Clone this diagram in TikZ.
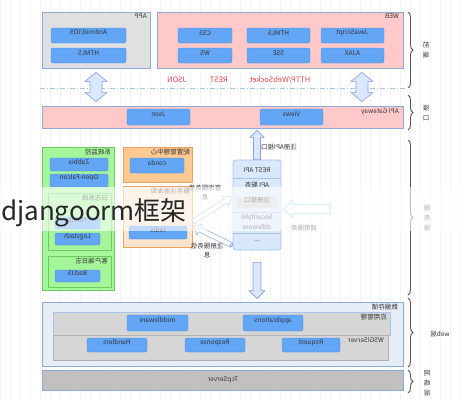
\documentclass[tikz,border=0pt]{standalone}
\usepackage{fontspec}
\setmainfont{Noto Sans CJK SC}
\usetikzlibrary{calc,fit,decorations.pathreplacing}
\definecolor{btnblue}{HTML}{62A6F5}
\definecolor{btnline}{HTML}{4A90E2}
\definecolor{boxline}{HTML}{8EAADB}
\definecolor{pinkf}{HTML}{FFC9C9}
\definecolor{grayf}{HTML}{E0E0E0}
\definecolor{greenf}{HTML}{A5F59A}
\definecolor{greenl}{HTML}{6CCB5F}
\definecolor{orangef}{HTML}{FFC992}
\definecolor{orangel}{HTML}{EFA35A}
\definecolor{peachf}{HTML}{FCE3CF}
\definecolor{restf}{HTML}{DAE8FC}
\definecolor{restl}{HTML}{A9C4EB}
\definecolor{redt}{HTML}{E04848}
\definecolor{webf}{HTML}{E6EDF6}
\definecolor{rowf}{HTML}{D6D6D6}
\definecolor{tcpf}{HTML}{C3BFBF}
\definecolor{txt}{HTML}{333333}
\definecolor{bracec}{HTML}{555555}
\definecolor{cyanl}{HTML}{A6DCF2}
\newcommand\mir[1]{\reflectbox{#1}}
\newcommand\onearrow[6][]{%
  \coordinate (fac) at ($(#3)!#6!(#2)$);
  \filldraw[#1] ($(#2)!#4!90:(#3)$) -- ($(fac)!#4!90:(#3)$) -- ($(fac)!#5!90:(#3)$) -- (#3)
    -- ($(fac)!#5!-90:(#3)$) -- ($(fac)!#4!-90:(#3)$) -- ($(#2)!#4!-90:(#3)$) -- cycle;}
\newcommand\twoarrow[6][]{%
  \coordinate (fa1) at ($(#2)!#6!(#3)$);
  \coordinate (fa2) at ($(#3)!#6!(#2)$);
  \filldraw[#1] (#2) -- ($(fa1)!#5!90:(#3)$) -- ($(fa1)!#4!90:(#3)$) -- ($(fa2)!#4!90:(#3)$)
    -- ($(fa2)!#5!90:(#3)$) -- (#3) -- ($(fa2)!#5!-90:(#3)$) -- ($(fa2)!#4!-90:(#3)$)
    -- ($(fa1)!#4!-90:(#3)$) -- ($(fa1)!#5!-90:(#3)$) -- cycle;}
\tikzset{
  sm/.style={font=\fontsize{6.5}{7.5}\selectfont, text=txt},
  tag/.style={sm, inner sep=0, anchor=north east},
  btn/.style={sm, fill=btnblue, draw=btnline, line width=0.4pt, rounded corners=2pt, inner sep=0},
  frame/.style={draw=boxline, line width=0.8pt, inner sep=0},
  redlab/.style={font=\fontsize{7.5}{8.5}\selectfont, text=redt, inner sep=0},
  brc/.style={decorate, decoration={brace, amplitude=5pt}, draw=bracec, line width=0.9pt},
  side/.style={font=\fontsize{6.5}{10}\selectfont, text=txt, inner sep=0},
  bigarr/.style={fill=restf, draw=restl!80!blue, line width=0.6pt},
  hollow/.style={fill=white, draw=restl, line width=0.8pt},
}
\begin{document}
\begin{tikzpicture}[x=1pt,y=-1pt]
\useasboundingbox (0,0) rectangle (461,400);
\fill[white] (0,0) rectangle (461,400);
\draw[gray!9, line width=0.3pt, step=10] (0,0) grid (461,400);

% ---- front end
\node[frame, fill=grayf, fit={(42,12) (150,68)}] (app) {};
\node[tag] (appt) at (147,14) {\mir{APP}};
\node[btn, fit={(51,28) (126,43)}] (andr) {\mir{Android/iOS}};
\node[btn, fit={(51,48) (126,63)}] (h5a) {\mir{HTML5}};

\node[frame, fill=pinkf, fit={(157,12) (403,68)}] (web) {};
\node[tag] (webt) at (399,14) {\mir{WEB}};
\node[btn, fit={(178,28) (232,43)}] (css) {\mir{CSS}};
\node[btn, fit={(247,28) (310,43)}] (h5b) {\mir{HTML5}};
\node[btn, fit={(321,28) (384,43)}] (js) {\mir{JavaScript}};
\node[btn, fit={(178,48) (232,63)}] (ws) {\mir{WS}};
\node[btn, fit={(247,48) (310,63)}] (sse) {\mir{SSE}};
\node[btn, fit={(321,48) (384,63)}] (ajax) {\mir{AJAX}};

\node[redlab] (ljson) at (177,80) {\mir{JSON}};
\node[redlab] (lrest) at (219,80) {\mir{REST}};
\node[redlab] (lhttp) at (280,80) {\mir{HTTP/WebSocket}};
\coordinate (dl1) at (40,88);
\coordinate (dl2) at (405,88);
\draw[restl, line width=0.8pt, dash pattern=on 5pt off 2pt on 1pt off 2pt] (dl1) -- (dl2);

% ---- interface
\node[frame, fill=pinkf, fit={(42,106) (403,128)}] (api) {};
\node[tag] (apit) at (399,108) {\mir{API Gateway}};
\node[btn, fit={(127,109) (190,125)}] (json) {\mir{Json}};
\node[btn, fit={(260,109) (323,125)}] (views) {\mir{Views}};

\coordinate (da1) at ($(app.south)+(0,4)$);
\coordinate (da2) at ($(api.north -| app.south)+(0,-4)$);
\twoarrow[bigarr]{da1}{da2}{6pt}{11pt}{9pt}
\coordinate (db1) at ($(web.south -| 362,0)+(0,4)$);
\coordinate (db2) at ($(api.north -| 362,0)+(0,-4)$);
\twoarrow[bigarr]{db1}{db2}{6pt}{11pt}{9pt}

% ---- service layer
\node[frame, draw=greenl, fill=greenf, fit={(42,147) (114,290)}] (mon) {};
\node[tag] (mont) at (111,149) {\mir{系统监控}};
\node[btn, fit={(50,158) (108,171)}] (zab) {\mir{Zabbix}};
\node[btn, fit={(50,174) (108,187)}] (falc) {\mir{Open-Falcon}};
\node[frame, draw=greenl, fill=greenf, fit={(48,193) (111,250)}] (logs) {};
\node[tag] (logst) at (108,195) {\mir{日志系统}};
\node[btn, fit={(55,217) (100,229)}] (flume) {\mir{Flume}};
\node[btn, fit={(55,233) (100,245)}] (logstash) {\mir{Logstash}};
\node[frame, draw=greenl, fill=greenf, fit={(48,256) (111,287)}] (cli) {};
\node[tag] (clit) at (108,258) {\mir{客户端日志}};
\node[btn, fit={(55,270) (100,282)}] (badjs) {\mir{BadJS}};

\node[frame, draw=orangel, fill=orangef, fit={(123,147) (192,182)}] (conf) {};
\node[tag] (conft) at (190,149) {\mir{配置管理中心}};
\node[btn, fit={(130,158) (184,173)}] (conda) {\mir{conda}};
\node[frame, draw=orangel, fill=peachf, fit={(123,186) (192,247)}] (reg) {};
\node[tag] (regt) at (190,188) {\mir{服务注册发现}};
\node[btn, fit={(129,226) (187,239)}] (redis) {\mir{redis}};

\node[fill=restf, draw=restl, line width=0.8pt, rounded corners=3pt, inner sep=0, fit={(233,160) (281,250)}] (rest) {};
\node[sm, inner sep=0] (rest1) at (257,170) {\mir{REST API}};
\draw[restl, line width=0.5pt] (rest.west |- 0,178) -- (rest.east |- 0,178);
\node[sm, inner sep=0] (rest2) at (257,185) {\mir{API 服务}};
\node[sm, fill=gray!35, rounded corners=2pt, inner sep=0, fit={(236,197) (278,208)}] (regif) {\mir{注册接口}};
\draw[restl, line width=0.5pt] (rest.west |- 0,212) -- (rest.east |- 0,212);
\node[sm, inner sep=0] (sec) at (257,222) {\mir{\shortstack{SecurityMi\\ddleware}}};
\draw[restl, line width=0.5pt] (rest.west |- 0,233) -- (rest.east |- 0,233);
\node[sm, inner sep=0] (dots) at (257,241) {...};

\coordinate (ua1) at (rest.north);
\coordinate (ua2) at ($(api.south -| rest.north)+(0,2)$);
\onearrow[bigarr]{ua1}{ua2}{3.5pt}{7pt}{7pt}
\node[sm, inner sep=0] (lreg) at (279,147) {\mir{注册API接口}};

\coordinate (ha1) at ($(reg.east)+(1,5)$);
\coordinate (ha2) at ($(rest.west)+(-1,-8)$);
\onearrow[hollow]{ha1}{ha2}{2.5pt}{6pt}{7pt}
\coordinate (hb1) at ($(rest.west)+(-1,40)$);
\coordinate (hb2) at ($(reg.east)+(1,10)$);
\onearrow[hollow]{hb1}{hb2}{2.5pt}{6pt}{7pt}
\draw[restl!70!blue, fill=white, line width=0.5pt] (hb1) circle (1.5);
\node[sm, inner sep=0] (lq) at (205,192) {\mir{\shortstack{查询服务信\\息}}};
\node[sm, inner sep=0] (lr) at (207,250) {\mir{\shortstack{注册服务信\\息}}};

\coordinate (ra1) at ($(rest.east)+(49,4)$);
\coordinate (ra2) at ($(rest.east)+(2,4)$);
\onearrow[fill=white, draw=cyanl, line width=1.2pt]{ra1}{ra2}{4.5pt}{8.5pt}{9pt}
\node[sm, inner sep=0] (lcall) at (304,228) {\mir{调用服务}};

% ---- web layer
\node[frame, fill=webf, fit={(42,302) (403,366)}] (wl) {};
\node[tag] (wlt) at (398,304) {\mir{数据存储}};
\node[fill=rowf, draw=restl, line width=0.6pt, inner sep=0, fit={(53,312) (390,335)}] (row1) {};
\node[tag] (row1t) at (387,314) {\mir{应用管理}};
\node[btn, fit={(127,315) (188,331)}] (mid) {\mir{middleware}};
\node[btn, fit={(243,315) (303,331)}] (appl) {\mir{applications}};
\node[fill=rowf, draw=gray!60, line width=0.6pt, inner sep=0, fit={(53,335) (388,360)}] (row2) {};
\node[tag] (row2t) at (384,337) {\mir{WSGIServer}};
\node[btn, fit={(87,338) (147,352)}] (hand) {\mir{Handlers}};
\node[btn, fit={(185,338) (245,352)}] (resp) {\mir{Response}};
\node[btn, fit={(282,338) (340,352)}] (req) {\mir{Request}};

\coordinate (dn1) at ($(rest.south)+(0,12)$);
\coordinate (dn2) at ($(wl.north -| rest.south)+(0,-3)$);
\onearrow[bigarr]{dn1}{dn2}{4pt}{8pt}{8pt}

\node[frame, fill=tcpf, fit={(42,370) (403,390)}] (tcp) {};
\node[sm, inner sep=0] (tcpt) at (223,380) {\mir{TcpServer}};

% ---- braces
\draw[brc] (408,12) -- (408,88);
\node[side] (s1) at (426,50) {\mir{\begin{tabular}{@{}c@{}}前\\端\end{tabular}}};
\draw[brc] (408,95) -- (408,130);
\node[side] (s2) at (426,113) {\mir{\begin{tabular}{@{}c@{}}接\\口\end{tabular}}};
\draw[brc] (408,140) -- (408,295);
\node[side] (s3) at (427,218) {\mir{\begin{tabular}{@{}c@{}}服\\务\\层\end{tabular}}};
\draw[brc] (408,298) -- (408,367);
\node[side] (s4) at (440,334) {\mir{web层}};
\draw[brc] (408,370) -- (408,393);
\node[side] (s5) at (427,383) {\mir{\begin{tabular}{@{}c@{}}网\\络\\层\end{tabular}}};

% ---- overlay
\fill[white, opacity=0.6] (0,187) rectangle (461,231);
\node[anchor=base west, inner sep=0, font=\fontsize{26}{30}\selectfont, text=black!85] (big) at (1,220) {djangoorm框架};
\end{tikzpicture}
\end{document}
